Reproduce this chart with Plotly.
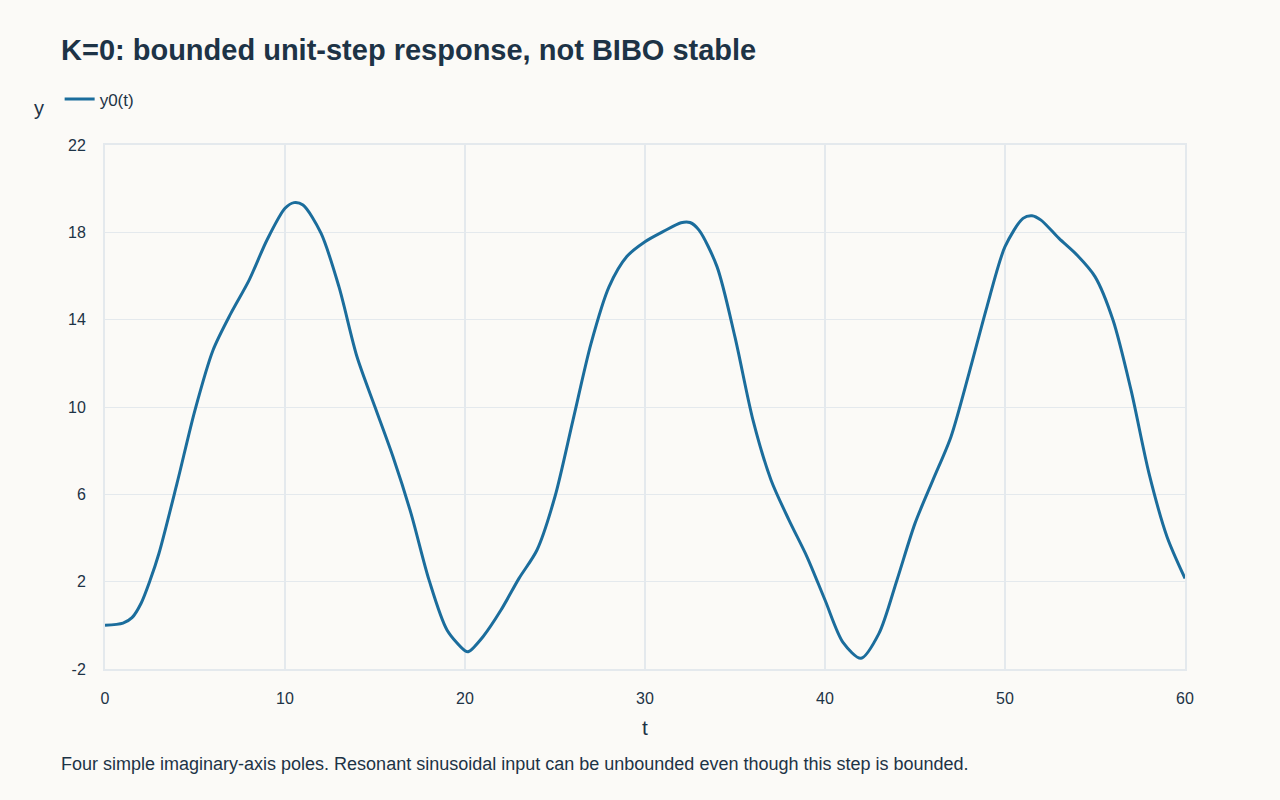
import plotly.graph_objects as go

# values
t_vals = [0, 1, 1.5, 2, 2.5, 3, 4, 5, 6, 7, 8, 9, 10, 10.5, 11, 12, 13, 14, 15, 16, 17, 18, 19, 20, 20.2,
          21, 22, 23, 24, 25, 26, 27, 28, 29, 30, 31, 32, 32.5, 33, 34, 35, 36, 37, 38, 39, 40,
          41, 42, 43, 44, 45, 46, 47, 48, 49, 50, 51, 51.5, 52, 53, 54, 55, 56, 57, 58, 59, 60]
y0_vals = [0.0, 0.1, 0.35, 1.0, 2.05, 3.3, 6.5, 9.86, 12.6, 14.3, 15.8, 17.65, 19.1, 19.36, 19.25, 17.96,
           15.5, 12.3, 10.0, 7.72, 5.13, 2.08, -0.21, -1.16, -1.2,
           -0.52, 0.7, 2.15, 3.45, 5.9, 9.4, 12.9, 15.5, 16.9, 17.57, 18.03, 18.44, 18.45, 18.1,
           16.43, 13.2, 9.4, 6.66, 4.82, 3.14, 1.16,
           -0.78, -1.51, -0.37, 2.08, 4.67, 6.66, 8.64, 11.54, 14.6, 17.34, 18.64, 18.76, 18.56,
           17.72, 16.96, 15.97, 13.98, 10.78, 6.96, 4.06, 2.15]

x_ticks = [0, 10, 20, 30, 40, 50, 60]
y_ticks = [-2, 2, 6, 10, 14, 18, 22]
y_tick_labels = ["-2", "2", "6", "10", "14", "18", "22"]

ink = "#1d3346"
grid = "#e4e9ed"
bg = "#fbfaf7"

fig = go.Figure()
fig.add_trace(go.Scatter(x=t_vals, y=y0_vals, mode="lines", name="y0(t)",
                         line=dict(color="#1b6d9c", width=3, shape="spline", smoothing=0.8)))

fig.update_layout(
    width=1280, height=800,
    paper_bgcolor=bg, plot_bgcolor=bg,
    font=dict(family="Liberation Sans, Arial, sans-serif", color=ink, size=16),
    title=dict(text="<b>K=0: bounded unit-step response, not BIBO stable</b>",
               x=61 / 1280, xref="container", xanchor="left",
               y=1 - 50 / 800, yref="container", yanchor="middle",
               font=dict(size=29, color=ink)),
    margin=dict(l=105, r=95, t=145, b=131),
    showlegend=True,
    legend=dict(orientation="h", x=-0.042, xanchor="left", y=1.087, yanchor="middle",
                bgcolor="rgba(0,0,0,0)", font=dict(size=17, color=ink)),
    annotations=[
        dict(text="y", xref="paper", yref="paper", x=-0.068, y=1.07, showarrow=False,
             xanchor="left", yanchor="middle", font=dict(size=20, color=ink)),
        dict(text="Four simple imaginary-axis poles. Resonant sinusoidal input can be unbounded even though this step is bounded.",
             xref="paper", yref="paper", x=-0.0425, y=-0.181, showarrow=False,
             xanchor="left", yanchor="middle", font=dict(size=18, color=ink)),
    ],
)

fig.update_xaxes(range=[0, 60], tickvals=x_ticks, showgrid=True, gridcolor=grid, gridwidth=1.5,
                 zeroline=False, showline=True, linecolor=grid, linewidth=2, mirror=True,
                 ticks="outside", ticklen=14, tickcolor="rgba(0,0,0,0)",
                 title=dict(text="t", font=dict(size=21, color=ink), standoff=14))
fig.update_yaxes(range=[-2, 22], tickvals=y_ticks, ticktext=y_tick_labels,
                 showgrid=True, gridcolor=grid, gridwidth=1,
                 zeroline=False, showline=True, linecolor=grid, linewidth=2, mirror=True,
                 ticks="outside", ticklen=14, tickcolor="rgba(0,0,0,0)")

fig.write_html("out.html", config={"displayModeBar": False},
               post_script="document.body.style.margin='0';")
